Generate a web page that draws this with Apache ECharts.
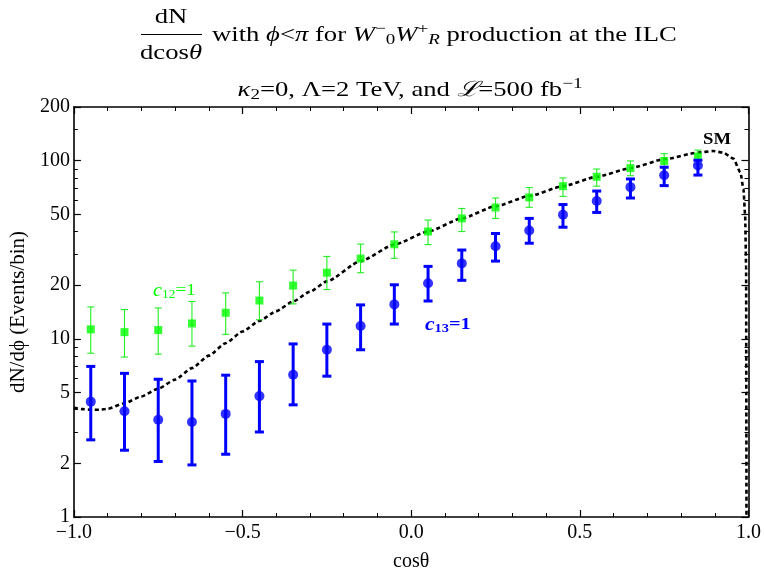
<!DOCTYPE html>
<html>
<head>
<meta charset="utf-8">
<script src="https://cdn.jsdelivr.net/npm/echarts@6/dist/echarts.min.js"></script>
<style>html,body{margin:0;padding:0;background:#fff}#c{width:764px;height:577px}</style>
</head>
<body>
<div id="c"></div>
<script>
// ---- data ----
const binCenters = [-0.95,-0.85,-0.75,-0.65,-0.55,-0.45,-0.35,-0.25,-0.15,-0.05,0.05,0.15,0.25,0.35,0.45,0.55,0.65,0.75,0.85];
const c12Values = [11.3,10.9,11.2,12.2,14.0,16.4,19.9,23.5,28.2,33.9,40.0,47.4,54.6,62.2,71.9,81.2,90.8,99.6,105.4];
const c12Low    = [8.3,7.9,8.2,9.1,10.6,12.8,15.7,18.9,23.5,28.3,33.8,40.0,47.4,54.7,63.0,71.9,82.3,90.8,95.5];
const c12High   = [15.1,14.6,14.9,16.2,18.1,20.9,24.3,29.0,34.0,39.8,46.4,53.9,61.7,70.6,80.0,89.7,99.6,109.4,114.6];
const c13Values = [4.44,3.92,3.51,3.41,3.79,4.77,6.28,8.68,11.8,15.6,20.5,26.5,33.1,40.5,49.7,59.4,71.0,82.8,94.0];
const c13Low    = [2.71,2.37,2.05,1.96,2.25,3.0,4.26,6.17,8.68,12.1,16.3,21.3,27.3,34.4,42.3,51.2,61.7,72.4,83.0];
const c13High   = [7.0,6.4,5.93,5.8,6.25,7.45,9.36,12.1,15.5,20.1,25.5,31.5,39.0,47.4,56.7,67.5,78.9,91.9,100.5];
const smCos = [-1.0,-0.975,-0.95,-0.925,-0.9,-0.85,-0.8,-0.75,-0.7,-0.65,-0.6,-0.55,-0.5,-0.45,-0.4,-0.35,-0.3,-0.25,-0.15,-0.05,0.05,0.15,0.25,0.35,0.45,0.55,0.65,0.75,0.85,0.895,0.925,0.955,0.976,0.985,0.99,0.993,0.9935,0.994];
const smValues = [4.1,4.03,4.0,4.0,4.05,4.35,4.75,5.25,5.9,6.85,8.05,9.45,11.0,12.6,14.3,16.2,18.4,21.0,27.3,33.8,40.0,47.4,55.5,63.3,71.9,81.2,90.8,101.8,110.9,113.2,110.9,102.7,86,69.5,49.5,25,5,1];
const xTicks = [-1.0,-0.5,0.0,0.5,1.0];
const yTicks = [1,2,5,10,20,50,100,200];
const yMinorTicks = [3,4,6,7,8,9,30,40,60,70,80,90,150];

const serif = '"Liberation Serif", "DejaVu Serif", serif';
const chart = echarts.init(document.getElementById('c'), null, {renderer:'canvas'});

function zip3(a,b,c){return a.map((v,i)=>[v,b[i],c[i]]);}
function zip2(a,b){return a.map((v,i)=>[v,b[i]]);}

function errBar(color, lw, cap){
  return function(params, api){
    const x = api.value(0), lo = api.value(1), hi = api.value(2);
    const p1 = api.coord([x, lo]), p2 = api.coord([x, hi]);
    const st = {stroke: color, lineWidth: lw};
    return {type:'group', children:[
      {type:'line', shape:{x1:p1[0],y1:p1[1],x2:p2[0],y2:p2[1]}, style:st},
      {type:'line', shape:{x1:p1[0]-cap/2,y1:p1[1],x2:p1[0]+cap/2,y2:p1[1]}, style:st},
      {type:'line', shape:{x1:p2[0]-cap/2,y1:p2[1],x2:p2[0]+cap/2,y2:p2[1]}, style:st}
    ]};
  };
}

const axLine = {show:true, onZero:false, lineStyle:{color:'#000', width:1.6}};
const noLine = {show:false, onZero:false};
const minus = v => (v < 0 ? '\u2212' : '') + Math.abs(v).toFixed(1);
const SX = 1.27;

const option = {
  animation:false,
  backgroundColor:'#fff',
  grid:{left:72, right:15, top:107, bottom:54, containLabel:false},
  xAxis:[
    {type:'value', min:-1, max:1, interval:0.5, position:'bottom',
     name:'cos\u03b8', nameLocation:'middle', nameGap:35,
     nameTextStyle:{fontFamily:serif, fontSize:20, color:'#000'},
     axisLine:axLine, splitLine:{show:false},
     axisTick:{show:true, inside:true, length:7, lineStyle:{color:'#000', width:1.2}},
     minorTick:{show:true, splitNumber:5, length:4, lineStyle:{color:'#000', width:1}},
     axisLabel:{fontFamily:serif, fontSize:20, color:'#000', margin:6, formatter:minus, customValues:xTicks}},
    {type:'value', min:-1, max:1, interval:0.5, position:'top',
     axisLine:axLine, splitLine:{show:false},
     axisTick:{show:true, inside:true, length:7, lineStyle:{color:'#000', width:1.2}},
     minorTick:{show:true, splitNumber:5, length:4, lineStyle:{color:'#000', width:1}},
     axisLabel:{show:false}}
  ],
  yAxis:[
    {type:'log', logBase:10, min:1, max:200, position:'left',
     name:'dN/d\u03d5 (Events/bin)', nameLocation:'middle', nameGap:44, nameRotate:90,
     nameTextStyle:{fontFamily:serif, fontSize:21, color:'#000'},
     axisLine:axLine, splitLine:{show:false}, minorTick:{show:false},
     axisTick:{show:true, inside:true, length:7, customValues:yTicks, lineStyle:{color:'#000', width:1.2}},
     axisLabel:{fontFamily:serif, fontSize:20, color:'#000', margin:4, customValues:yTicks, formatter:v=>String(Math.round(v))}},
    {type:'log', logBase:10, min:1, max:200, position:'left', offset:0,
     axisLine:noLine, splitLine:{show:false},
     axisTick:{show:true, inside:true, length:4, customValues:yMinorTicks, lineStyle:{color:'#000', width:1}},
     axisLabel:{show:false}},
    {type:'log', logBase:10, min:1, max:200, position:'right',
     axisLine:axLine, splitLine:{show:false},
     axisTick:{show:true, inside:true, length:7, customValues:yTicks, lineStyle:{color:'#000', width:1.2}},
     axisLabel:{show:false}},
    {type:'log', logBase:10, min:1, max:200, position:'right', offset:0,
     axisLine:noLine, splitLine:{show:false},
     axisTick:{show:true, inside:true, length:4, customValues:yMinorTicks, lineStyle:{color:'#000', width:1}},
     axisLabel:{show:false}}
  ],
  series:[
    {type:'line', name:'SM', data:zip2(smCos, smValues), showSymbol:false, smooth:0.2, smoothMonotone:'x',
     lineStyle:{color:'#000', width:2.6, type:[4,3]}, z:3, clip:true},
    {type:'custom', name:'c12err', data:zip3(binCenters, c12Low, c12High), renderItem:errBar('#22ee22', 1.1, 7), z:4, clip:true},
    {type:'scatter', name:'c12', data:zip2(binCenters, c12Values), symbol:'rect', symbolSize:8,
     itemStyle:{color:'#00ff00'}, z:5},
    {type:'custom', name:'c13err', data:zip3(binCenters, c13Low, c13High), renderItem:errBar('#0000ff', 3, 9), z:6, clip:true},
    {type:'scatter', name:'c13', data:zip2(binCenters, c13Values), symbol:'circle', symbolSize:10,
     itemStyle:{color:'#0000ff'}, z:7}
  ],
  graphic:[
    {type:'text', x:171, y:17, scaleX:SX, style:{text:'dN', font:'21px '+serif, fill:'#000', align:'center', verticalAlign:'middle'}},
    {type:'line', shape:{x1:141, y1:34.5, x2:202, y2:34.5}, style:{stroke:'#000', lineWidth:1}},
    {type:'text', x:171, y:53, scaleX:SX, style:{text:'dcos{i|\u03b8}', font:'21px '+serif, fill:'#000', align:'center', verticalAlign:'middle',
      rich:{i:{fontFamily:serif, fontSize:21, fontStyle:'italic'}}}},
    {type:'text', x:212, y:35, scaleX:SX, style:{
      text:'with {i|\u03d5}<{i|\u03c0} for {i|W}{sup|\u2212}{sub|0}{i|W}{sup|+}{subi|R} production at the ILC',
      font:'21px '+serif, fill:'#000', align:'left', verticalAlign:'middle',
      rich:{
        i:{fontFamily:serif, fontSize:21, fontStyle:'italic'},
        sup:{fontFamily:serif, fontSize:15, padding:[0,0,12,0]},
        sub:{fontFamily:serif, fontSize:15, padding:[10,0,0,0]},
        subi:{fontFamily:serif, fontSize:15, fontStyle:'italic', padding:[10,0,0,0]}
      }}},
    {type:'text', x:410, y:90, scaleX:SX, style:{
      text:'{i|\u03ba}{sub|2}=0, \u039b=2 TeV, and {i|\u2112}=500 fb{sup|\u22121}',
      font:'21px '+serif, fill:'#000', align:'center', verticalAlign:'middle',
      rich:{
        i:{fontFamily:serif, fontSize:21, fontStyle:'italic'},
        sup:{fontFamily:serif, fontSize:15, padding:[0,0,12,0]},
        sub:{fontFamily:serif, fontSize:15, padding:[10,0,0,0]}
      }}},
    {type:'text', x:717, y:140, scaleX:1.1, style:{text:'SM', font:'bold 17px '+serif, fill:'#000', align:'center', verticalAlign:'middle'}},
    {type:'text', x:153, y:291, scaleX:1.12, style:{text:'{i|c}{sub|12}=1', font:'17px '+serif, fill:'#00ff00', align:'left', verticalAlign:'middle',
      rich:{i:{fontFamily:serif, fontSize:18, fontStyle:'italic', fill:'#00ff00'}, sub:{fontFamily:serif, fontSize:12, padding:[8,0,0,0], fill:'#00ff00'}}}},
    {type:'text', x:425, y:325, scaleX:1.2, style:{text:'{i|c}{sub|13}=1', font:'bold 17px '+serif, fill:'#0000ff', align:'left', verticalAlign:'middle',
      rich:{i:{fontFamily:serif, fontSize:18, fontStyle:'italic', fontWeight:'bold', fill:'#0000ff'}, sub:{fontFamily:serif, fontSize:12, fontWeight:'bold', padding:[8,0,0,0], fill:'#0000ff'}}}}
  ]
};
chart.setOption(option);
</script>
</body>
</html>
